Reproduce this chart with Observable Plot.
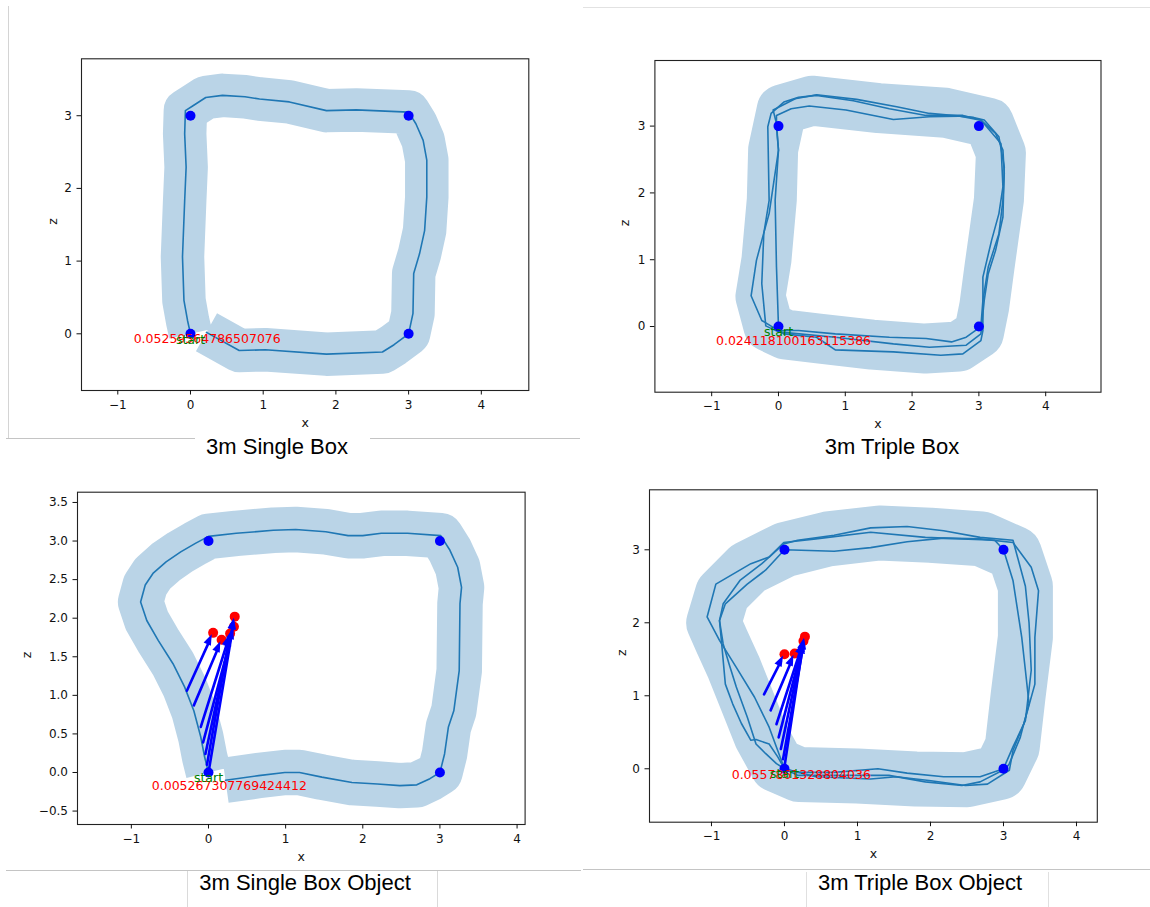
<!DOCTYPE html>
<html><head><meta charset="utf-8">
<script src="https://cdn.jsdelivr.net/npm/d3@7"></script>
<script src="https://cdn.jsdelivr.net/npm/@observablehq/plot@0.6"></script>
<style>
body{margin:0;background:#fff;}
#page{position:relative;width:1150px;height:907px;overflow:hidden;background:#fff;font-family:"DejaVu Sans",sans-serif;}
.panel{position:absolute;}
.rule{position:absolute;}
.title{position:absolute;font-family:"Liberation Sans",Arial,sans-serif;font-size:22px;line-height:22px;white-space:nowrap;transform:translateX(-50%);color:#000;}
</style></head>
<body><div id="page"></div>
<script>
// ---------- data ----------
const titles = ["3m Single Box", "3m Triple Box", "3m Single Box Object", "3m Triple Box Object"];
const scores = ["0.05259564786507076", "0.024118100163115386", "0.005267307769424412", "0.0557861328804036"];
const startLabel = "start";
const startPos = [[0, -0.085], [0, -0.08], [0, -0.065], [0, -0.07]];
const scorePos = [[0.23, -0.065], [0.225, -0.21], [0.27, -0.17], [0.23, -0.09]];
const cornersX = [0, 3, 3, 0];
const cornersZ = [0, 0, 3, 3];
const xTicks = [-1, 0, 1, 2, 3, 4];
const zTicksInt = [0, 1, 2, 3];
const zTicksHalf = [-0.5, 0, 0.5, 1, 1.5, 2, 2.5, 3, 3.5];

// Panel 1: single box trajectory
const traj1 = [[0.22,0.02],[0.67,-0.23],[1.03,-0.22],[1.87,-0.28],[2.64,-0.25],[2.8,-0.15],[3.0,0.0],[3.06,0.28],[3.07,0.83],[3.15,1.1],[3.22,1.42],[3.25,1.88],[3.25,2.39],[3.2,2.66],[3.1,2.89],[3.0,3.05],[2.28,3.08],[1.87,3.07],[1.36,3.19],[0.95,3.23],[0.75,3.26],[0.44,3.28],[0.21,3.25],[0.04,3.14],[-0.07,3.07],[-0.08,2.75],[-0.06,2.29],[-0.08,1.83],[-0.11,1.06],[-0.09,0.46],[-0.04,0.18],[0,0]];

// Panel 2: triple box loops
const loop2a = [[0,-0.06],[0.30,-0.06],[0.85,-0.11],[1.66,-0.16],[2.21,-0.18],[2.59,-0.23],[2.81,-0.16],[3.03,0],[3.06,0.39],[3.14,0.89],[3.30,1.39],[3.36,1.89],[3.38,2.29],[3.36,2.64],[3.25,2.89],[3.03,3.09],[2.76,3.16],[2.21,3.16],[1.66,3.26],[1.12,3.38],[0.57,3.46],[0.30,3.43],[0.08,3.36],[-0.11,3.19],[-0.16,2.99],[-0.14,1.89],[-0.22,1.39],[-0.25,0.64],[-0.19,0.01],[0,-0.08]];
const loop2b = [[0,-0.08],[0.85,-0.16],[1.72,-0.26],[2.26,-0.31],[2.81,-0.28],[3.03,-0.11],[3.08,0.39],[3.14,0.79],[3.25,1.14],[3.36,1.64],[3.38,2.39],[3.30,2.84],[3.08,3.09],[2.92,3.13],[2.26,3.19],[1.77,3.29],[1.17,3.40],[0.57,3.47],[0.25,3.41],[-0.08,3.24],[-0.03,3.04],[0,2.64],[-0.14,1.69],[-0.25,1.29],[-0.33,0.99],[-0.41,0.46],[-0.25,0.09],[0.08,-0.11]];
const loop2c = [[0.08,-0.11],[0.57,-0.16],[0.85,-0.35],[1.72,-0.38],[2.43,-0.43],[2.76,-0.41],[3.03,-0.21],[3.06,-0.06],[3.06,0.74],[3.19,1.29],[3.30,1.69],[3.36,2.09],[3.33,2.74],[3.03,3.09],[2.70,3.15],[2.26,3.14],[1.72,3.10],[1.01,3.24],[0.46,3.30],[0.19,3.26],[-0.03,3.16],[-0.03,2.99],[0,2.64],[-0.05,1.89],[-0.03,0.89],[0,0]];
const band2 = [[-0.15,0.0],[0.1,-0.12],[0.6,-0.18],[1.4,-0.27],[2.2,-0.33],[2.7,-0.3],[3.0,-0.1],[3.08,0.3],[3.16,0.9],[3.3,1.9],[3.33,2.6],[3.15,3.05],[2.5,3.2],[1.5,3.27],[0.5,3.38],[0.05,3.25],[-0.08,2.65],[-0.1,1.9],[-0.18,1.0],[-0.27,0.45],[-0.15,0.0],[0.1,-0.12],[0.6,-0.18]];

// Panel 3: single box object
const traj3 = [[0.22,-0.10],[0.65,-0.04],[0.99,0.0],[1.18,0.0],[1.47,-0.06],[1.86,-0.13],[2.19,-0.15],[2.48,-0.17],[2.70,-0.16],[2.87,-0.08],[3.0,0.0],[3.06,0.24],[3.11,0.59],[3.18,0.80],[3.25,1.32],[3.26,2.19],[3.28,2.40],[3.23,2.66],[3.13,2.88],[3.01,3.07],[2.58,3.10],[2.24,3.10],[2.0,3.07],[1.81,3.07],[1.52,3.12],[1.13,3.15],[0.84,3.14],[0.36,3.10],[0.0,3.06],[-0.17,2.97],[-0.36,2.86],[-0.55,2.73],[-0.72,2.58],[-0.82,2.43],[-0.88,2.21],[-0.80,1.97],[-0.65,1.71],[-0.46,1.41],[-0.31,1.11],[-0.19,0.80],[-0.10,0.46],[-0.05,0.20],[0,0]];
const tails3 = [[-0.28,1.06],[-0.19,0.87],[-0.10,0.59],[-0.07,0.39],[-0.04,0.24],[-0.02,0.10],[0,0]];
const heads3 = [[0.06,1.81],[0.17,1.72],[0.28,1.80],[0.33,1.89],[0.34,2.02],[0.28,1.80],[0.34,2.02]];
const reds3 = [[0.06,1.81],[0.17,1.72],[0.28,1.80],[0.33,1.89],[0.34,2.02]];

// Panel 4: triple box object
const loop4a = [[0,0],[0.18,-0.05],[0.68,-0.05],[1.28,0.0],[1.68,-0.06],[2.18,-0.11],[2.68,-0.11],[3.0,0.0],[3.03,0.07],[3.13,0.30],[3.30,0.66],[3.38,1.35],[3.35,2.0],[3.30,2.5],[3.23,2.76],[3.13,3.13],[2.68,3.17],[2.18,3.26],[1.68,3.32],[1.18,3.30],[0.68,3.20],[0.18,3.13],[-0.01,3.08],[-0.31,2.81],[-0.61,2.58],[-0.84,2.26],[-0.89,2.03],[-0.86,1.71],[-0.81,1.16],[-0.71,0.89],[-0.59,0.62],[-0.46,0.39],[-0.39,0.40],[-0.21,0.34],[-0.09,0.16],[0,0]];
const loop4b = [[0,0],[0.18,-0.09],[0.93,-0.09],[1.43,-0.09],[1.93,-0.18],[2.43,-0.23],[2.68,-0.18],[3.03,0.0],[3.08,0.07],[3.23,0.43],[3.35,0.89],[3.30,1.35],[3.25,1.80],[3.13,2.58],[3.0,3.0],[2.88,3.13],[2.43,3.15],[1.93,3.17],[1.18,3.24],[0.43,3.15],[-0.01,3.10],[-0.21,2.9],[-0.46,2.81],[-0.94,2.53],[-1.06,2.08],[-0.89,1.76],[-0.66,1.39],[-0.41,0.98],[-0.21,0.57],[-0.06,0.16],[0,0]];
const loop4c = [[0,0],[0.43,-0.11],[1.18,-0.14],[1.53,-0.11],[1.98,-0.16],[2.48,-0.23],[2.78,-0.21],[3.08,-0.02],[3.13,0.25],[3.28,0.62],[3.43,1.16],[3.43,1.80],[3.48,2.44],[3.38,2.76],[3.13,3.1],[2.68,3.15],[2.18,3.16],[1.68,3.11],[1.18,3.03],[0.68,2.98],[0.0,3.0],[-0.26,2.72],[-0.51,2.53],[-0.81,2.26],[-0.89,2.03],[-0.84,1.71],[-0.76,1.44],[-0.66,1.12],[-0.51,0.71],[-0.39,0.34],[-0.26,0.21],[-0.11,0.07],[0,0]];
const band4 = [[-0.1,0.05],[0.2,-0.08],[1.0,-0.1],[1.8,-0.14],[2.5,-0.15],[2.95,-0.05],[3.12,0.3],[3.2,1.0],[3.3,1.8],[3.3,2.5],[3.15,2.95],[2.7,3.15],[2.0,3.2],[1.3,3.23],[0.6,3.15],[0.0,3.0],[-0.5,2.75],[-0.85,2.4],[-0.97,2.0],[-0.86,1.75],[-0.7,1.4],[-0.5,0.9],[-0.32,0.45],[-0.1,0.05],[0.2,-0.08],[1.0,-0.1]];
const tails4 = [[-0.28,1.02],[-0.19,0.80],[-0.11,0.61],[-0.08,0.43],[-0.05,0.27],[-0.02,0.13],[0,0.03]];
const heads4 = [[0.00,1.57],[0.14,1.58],[0.26,1.75],[0.28,1.81],[0.27,1.78],[0.28,1.81],[0.26,1.75]];
const reds4 = [[0.00,1.57],[0.14,1.58],[0.26,1.75],[0.28,1.81]];

// ---------- layout ----------
const panels = [
  {box:[0,0,580,437], frame:[81,58.3,528.3,390], xDomain:[-1.499,4.653], yDomain:[-0.780,3.783], zTicks:zTicksInt, zFmt:"d", band:traj1, bandWidth:43.5, loops:[traj1], zOff:29, xOff:32.7, titleX:277, titleTop:436.4},
  {box:[580,0,570,437], frame:[654.4,60,1100.5,391.7], xDomain:[-1.850,4.828], yDomain:[-0.983,3.982], zTicks:zTicksInt, zFmt:"d", band:band2, bandWidth:50, loops:[loop2a,loop2b,loop2c], zOff:30, xOff:31.6, titleX:892, titleTop:436.4},
  {box:[0,440,580,430], frame:[77,491.7,524.6,824], xDomain:[-1.698,4.104], yDomain:[-0.674,3.633], zTicks:zTicksHalf, zFmt:".1f", band:traj3, bandWidth:45.5, loops:[traj3], tails:tails3, heads:heads3, reds:reds3, zOff:50.3, xOff:32, titleX:305, titleTop:872.4},
  {box:[580,440,570,430], frame:[649,489.3,1096.8,821.7], xDomain:[-1.849,4.285], yDomain:[-0.732,3.822], zTicks:zTicksInt, zFmt:"d", band:band4, bandWidth:55, loops:[loop4a,loop4b,loop4c], tails:tails4, heads:heads4, reds:reds4, zOff:28, xOff:31.6, titleX:920, titleTop:872.4}
];

const page = document.getElementById("page");
const pts = arr => arr.map(([x, y]) => ({x, y}));
const NS = "http://www.w3.org/2000/svg";

// filled arrowheads drawn through the plot's own x/y scales
function headMark(arrows) {
  return function(index, scales) {
    const sx = typeof scales.x === "function" ? scales.x : scales.scales && scales.scales.x;
    const sy = typeof scales.y === "function" ? scales.y : scales.scales && scales.scales.y;
    const g = document.createElementNS(NS, "g");
    if (!sx || !sy) return g;
    for (const a of arrows) {
      const x1 = sx(a.x1), y1 = sy(a.y1), x2 = sx(a.x2), y2 = sy(a.y2);
      const dx = x2 - x1, dy = y2 - y1, L = Math.hypot(dx, dy), ux = dx / L, uy = dy / L;
      const tx = x2 - ux * 2, ty = y2 - uy * 2;
      const bx = tx - ux * 11, by = ty - uy * 11, w = 4;
      const p = document.createElementNS(NS, "path");
      p.setAttribute("d", `M${tx},${ty}L${bx - uy * w},${by + ux * w}L${bx + uy * w},${by - ux * w}Z`);
      p.setAttribute("fill", "#0000ff");
      g.appendChild(p);
    }
    return g;
  };
}

panels.forEach((cfg, k) => {
  const [bl, bt, bw, bh] = cfg.box;
  const [fl, ft, fr, fb] = cfg.frame;
  const lineData = cfg.loops.flatMap((loop, i) => loop.map(([x, y]) => ({x, y, loop: i})));
  const marks = [
    Plot.line(pts(cfg.band), {x: "x", y: "y", stroke: "#bad4e7", strokeWidth: cfg.bandWidth, strokeLinejoin: "round", strokeLinecap: "butt", clip: true}),
    Plot.line(lineData, {x: "x", y: "y", z: "loop", stroke: "#1f77b4", strokeWidth: 1.6, strokeLinejoin: "round", clip: true})
  ];
  if (cfg.tails) {
    const arrows = cfg.tails.map((t, i) => ({x1: t[0], y1: t[1], x2: cfg.heads[i][0], y2: cfg.heads[i][1]}));
    marks.push(Plot.dot(pts(cfg.reds), {x: "x", y: "y", r: 5, fill: "#ff0000"}));
    marks.push(Plot.arrow(arrows, {x1: "x1", y1: "y1", x2: "x2", y2: "y2", stroke: "#0000ff", strokeWidth: 2.6, headLength: 0, insetEnd: 8}));
    marks.push(headMark(arrows));
  }
  marks.push(Plot.dot(cornersX.map((x, i) => ({x, y: cornersZ[i]})), {x: "x", y: "y", r: 5, fill: "#0000ff"}));
  marks.push(Plot.text([{x: scorePos[k][0], y: scorePos[k][1], t: scores[k]}], {x: "x", y: "y", text: "t", fill: "#ff0000", fontSize: 12.5, textAnchor: "middle", lineAnchor: "middle"}));
  marks.push(Plot.text([{x: startPos[k][0], y: startPos[k][1], t: startLabel}], {x: "x", y: "y", text: "t", fill: "#008000", fontSize: 12.5, textAnchor: "middle", lineAnchor: "middle"}));
  marks.push(Plot.frame({stroke: "#222", strokeWidth: 1.1}));
  marks.push(Plot.axisX({ticks: xTicks, tickFormat: d3.format("d"), tickSize: 4.5, tickPadding: 5, label: null, fontSize: 12}));
  marks.push(Plot.axisY({ticks: cfg.zTicks, tickFormat: d3.format(cfg.zFmt), tickSize: 4.5, tickPadding: 5, label: null, fontSize: 12}));
  marks.push(Plot.text(["x"], {frameAnchor: "bottom", dy: cfg.xOff, text: d => d, fontSize: 12.5, lineAnchor: "middle"}));
  marks.push(Plot.text(["z"], {frameAnchor: "left", dx: -cfg.zOff, text: d => d, fontSize: 12.5, rotate: -90, lineAnchor: "middle"}));

  const svg = Plot.plot({
    width: bw, height: bh,
    marginLeft: fl - bl, marginTop: ft - bt, marginRight: bl + bw - fr, marginBottom: bt + bh - fb,
    x: {domain: cfg.xDomain},
    y: {domain: cfg.yDomain},
    style: {fontFamily: "DejaVu Sans", color: "#111", background: "transparent", overflow: "visible"},
    marks
  });
  const holder = document.createElement("div");
  holder.className = "panel";
  holder.style.left = bl + "px"; holder.style.top = bt + "px";
  holder.appendChild(svg);
  page.appendChild(holder);

  const t = document.createElement("div");
  t.className = "title";
  t.textContent = titles[k];
  t.style.left = cfg.titleX + "px"; t.style.top = cfg.titleTop + "px";
  page.appendChild(t);
});

// separator rules [left, top, width, height, color]
const rules = [
  [8, 6, 1, 432, "#d4d4d4"],
  [6, 437.5, 189, 1, "#c4c4c4"],
  [370, 437.5, 210, 1, "#c4c4c4"],
  [583, 6.5, 567, 1, "#e2e2e2"],
  [6, 870, 575, 1, "#c4c4c4"],
  [187, 871, 1, 36, "#dadada"],
  [437, 871, 1, 36, "#dadada"],
  [583, 868.5, 567, 1, "#c4c4c4"],
  [806, 872, 1, 35, "#e0e0e0"],
  [1048, 872, 1, 35, "#e0e0e0"]
];
rules.forEach(([l, t, w, h, c]) => {
  const d = document.createElement("div");
  d.className = "rule";
  Object.assign(d.style, {left: l + "px", top: t + "px", width: w + "px", height: h + "px", background: c});
  page.appendChild(d);
});
</script>
</body></html>
